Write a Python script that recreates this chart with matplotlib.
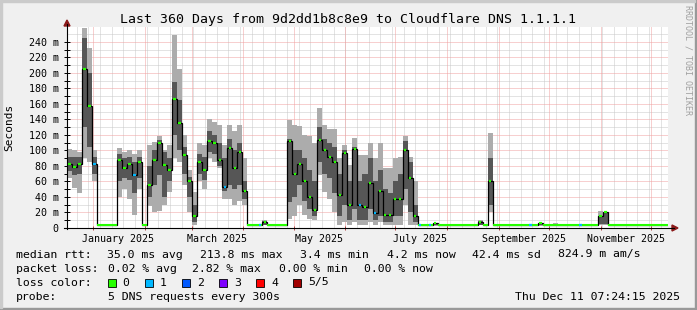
import matplotlib
matplotlib.use("Agg")
import matplotlib.pyplot as plt
from matplotlib.lines import Line2D
from matplotlib.patches import Polygon, Rectangle
from datetime import datetime, timedelta
import numpy as np

# ---------------- data ----------------
START = datetime(2024, 12, 16, 7, 24, 15)
END = datetime(2025, 12, 11, 7, 24, 15)
SPAN_DAYS = 360
SLOT_DAYS = 3

# median rtt per 3-day slot (ms)
median = [
    83, 78, 82, 205, 157, 83, 4.5, 4.5, 4.5, 4.5,
    88, 77, 82, 68, 85, 4.5, 55, 88, 110, 81,
    75, 166, 135, 94, 60, 15, 85, 75, 112, 110,
    88, 53, 103, 77, 98, 48, 4.5, 4.5, 4.5, 8,
    4.5, 4.5, 4.5, 4.5, 112, 70, 83, 60, 40, 23,
    113, 100, 92, 85, 43, 97, 30, 102, 30, 27,
    58, 19, 48, 17, 17, 37, 38, 100, 64, 15,
    3.5, 3.5, 3.5, 6, 3.5, 3.5, 3.5, 3.5, 3.5, 3.5,
    3.5, 3.5, 8, 3.5, 60, 3.5, 3.5, 3.5, 3.5, 3.5,
    3.5, 3.5, 3.5, 3.5, 6, 3.5, 3.5, 3.5, 3.5, 3.5,
    3.5, 3.5, 3.5, 3.5, 3.5, 3.5, 15, 20, 3.5, 3.5,
    3.5, 3.5, 3.5, 4.2, 4.2, 4.2, 4.2, 4.2, 4.2, 4.2,
]
# outer smoke (min/max of pings)
smoke_lo = [
    64, 52, 45, 90, 85, 60, 4, 4, 4, 4,
    40, 50, 38, 17, 50, 4, 28, 20, 22, 30,
    47, 90, 85, 55, 21, 4, 60, 50, 90, 85,
    77, 38, 38, 30, 35, 30, 4, 4, 4, 4,
    4, 4, 4, 4, 12, 15, 30, 17, 12, 10,
    68, 47, 38, 21, 4, 8, 4, 8, 4, 4,
    8, 4, 8, 4, 4, 4, 4, 30, 4, 4,
    3.2, 3.2, 3.2, 3.2, 3.2, 3.2, 3.2, 3.2, 3.2, 3.2,
    3.2, 3.2, 3.4, 3.2, 20, 3.2, 3.2, 3.2, 3.2, 3.2,
    3.2, 3.2, 3.2, 3.2, 3.2, 3.2, 3.2, 3.2, 3.2, 3.2,
    3.2, 3.2, 3.2, 3.2, 3.2, 3.2, 3.4, 4, 3.2, 3.2,
    3.2, 3.2, 3.2, 3.9, 3.9, 3.9, 3.9, 3.9, 3.9, 3.9,
]
smoke_hi = [
    102, 100, 98, 258, 232, 100, 5.5, 5.5, 5.5, 5.5,
    103, 98, 100, 95, 100, 5.5, 107, 111, 118, 100,
    107, 249, 205, 120, 75, 47, 109, 107, 141, 137,
    133, 107, 133, 125, 133, 90, 5.5, 5.5, 5.5, 10,
    5.5, 5.5, 5.5, 5.5, 139, 133, 131, 120, 118, 110,
    154, 133, 128, 128, 90, 107, 81, 116, 94, 94,
    109, 90, 109, 77, 77, 90, 92, 118, 92, 60,
    4.5, 4.5, 4.5, 6.5, 4.5, 4.5, 4.5, 4.5, 4.5, 4.5,
    4.5, 4.5, 10, 4.5, 122, 4.5, 4.5, 4.5, 4.5, 4.5,
    4.5, 4.5, 4.5, 4.5, 7, 4.5, 4.5, 6, 4.5, 4.5,
    4.5, 4.5, 4.5, 4.5, 4.5, 4.5, 22, 20, 4.5, 4.5,
    4.5, 4.5, 4.5, 5.2, 5.2, 5.2, 5.2, 5.2, 5.2, 5.2,
]
# inner smoke (2nd / 4th ping)
core_lo = [
    73, 68, 70, 130, 105, 70, 4.2, 4.2, 4.2, 4.2,
    60, 65, 62, 45, 65, 4.2, 40, 55, 68, 40,
    60, 120, 100, 70, 40, 8, 70, 62, 98, 95,
    80, 48, 55, 50, 55, 38, 4.2, 4.2, 4.2, 4.5,
    4.2, 4.2, 4.2, 4.2, 34, 40, 55, 35, 25, 15,
    85, 70, 65, 45, 15, 30, 10, 25, 10, 10,
    25, 10, 15, 8, 8, 15, 15, 50, 20, 8,
    3.4, 3.4, 3.4, 3.4, 3.4, 3.4, 3.4, 3.4, 3.4, 3.4,
    3.4, 3.4, 4, 3.4, 30, 3.4, 3.4, 3.4, 3.4, 3.4,
    3.4, 3.4, 3.4, 3.4, 3.4, 3.4, 3.4, 3.4, 3.4, 3.4,
    3.4, 3.4, 3.4, 3.4, 3.4, 3.4, 5, 5, 3.4, 3.4,
    3.4, 3.4, 3.4, 4.0, 4.0, 4.0, 4.0, 4.0, 4.0, 4.0,
]
core_hi = [
    92, 92, 92, 245, 200, 92, 5, 5, 5, 5,
    95, 90, 92, 85, 92, 5, 80, 100, 113, 98,
    90, 188, 165, 105, 66, 30, 95, 92, 125, 120,
    110, 90, 115, 100, 110, 60, 5, 5, 5, 9,
    5, 5, 5, 5, 115, 100, 100, 90, 75, 60,
    130, 115, 110, 105, 70, 100, 60, 105, 60, 70,
    90, 60, 75, 50, 45, 60, 70, 112, 85, 30,
    4, 4, 4, 6, 4, 4, 4, 4, 4, 4,
    4, 4, 9, 4, 90, 4, 4, 4, 4, 4,
    4, 4, 4, 4, 6.5, 4, 4, 4, 4, 4,
    4, 4, 4, 4, 4, 4, 16, 19, 4, 4,
    4, 4, 4, 4.6, 4.6, 4.6, 4.6, 4.6, 4.6, 4.6,
]
# lost pings (out of 5) per slot
loss = [
    0, 0, 0, 0, 0, 1, 0, 0, 0, 0,
    0, 0, 0, 1, 0, 0, 0, 0, 0, 0,
    0, 0, 0, 0, 0, 0, 0, 0, 0, 0,
    0, 1, 0, 0, 0, 0, 0, 0, 1, 0,
    0, 0, 0, 0, 0, 0, 0, 0, 0, 0,
    0, 0, 0, 0, 0, 0, 0, 0, 1, 0,
    0, 1, 0, 0, 0, 0, 0, 0, 0, 0,
    1, 0, 1, 0, 0, 0, 0, 0, 0, 0,
    0, 0, 0, 0, 0, 0, 0, 0, 0, 0,
    0, 0, 1, 0, 0, 0, 0, 0, 0, 0,
    0, 0, 1, 0, 0, 0, 0, 0, 0, 0,
    0, 0, 0, 0, 0, 0, 0, 0, 0, 0,
]

y_ticks = [0, 20, 40, 60, 80, 100, 120, 140, 160, 180, 200, 220, 240]
y_tick_labels = ["0", "20 m", "40 m", "60 m", "80 m", "100 m", "120 m",
                 "140 m", "160 m", "180 m", "200 m", "220 m", "240 m"]
month_label_dates = [datetime(2025, 1, 16), datetime(2025, 3, 16), datetime(2025, 5, 16),
                     datetime(2025, 7, 16), datetime(2025, 9, 16), datetime(2025, 11, 16)]
month_labels = ["January 2025", "March 2025", "May 2025", "July 2025",
                "September 2025", "November 2025"]

title = "Last 360 Days from 9d2dd1b8c8e9 to Cloudflare DNS 1.1.1.1"
rtt_stats = ["35.0 ms avg", "213.8 ms max", "3.4 ms min", "4.2 ms now", "42.4 ms sd", "824.9 m am/s"]
loss_stats = ["0.02 % avg", "2.82 % max", "0.00 % min", "0.00 % now"]
loss_colors = ["#26ff00", "#00b8ff", "#0059ff", "#7e00ff", "#ff0000", "#a10000"]
loss_labels = ["0", "1", "2", "3", "4", "5/5"]
probe_text = "5 DNS requests every 300s"
stamp_text = "Thu Dec 11 07:24:15 2025"

# ---------------- layout ----------------
W, H = 697, 310
FONT = "DejaVu Sans Mono"
fig = plt.figure(figsize=(W / 100, H / 100), dpi=100)
fig.patch.set_facecolor("#f0f0f0")

def fx(x):
    return x / W

def fy(y):
    return 1 - y / H

X0, X1, Y0, Y1 = 67, 668, 228, 27
ax = fig.add_axes([fx(X0), fy(Y0), (X1 - X0) / W, (Y0 - Y1) / H])
ax.set_facecolor("white")
ax.set_xlim(0, SPAN_DAYS)
ax.set_ylim(0, 259)
for s in ax.spines.values():
    s.set_visible(False)

def days(d):
    return (d - START).total_seconds() / 86400.0

# grid
dot = (0, (1, 1))
for v in range(10, 260, 10):
    if v % 20:
        ax.axhline(v, color="#c8c8c8", lw=0.72, ls=dot, zorder=0)
for v in y_ticks[1:]:
    ax.axhline(v, color="#f0a0a0", lw=0.72, ls=dot, zorder=1)
sun = datetime(2024, 12, 22)
while sun < END:
    ax.axvline(days(sun), color="#c8c8c8", lw=0.72, ls=dot, zorder=0)
    sun += timedelta(days=7)
month_starts = [datetime(2025, m, 1) for m in range(1, 13)]
for d in month_starts:
    ax.axvline(days(d), color="#f0a0a0", lw=0.72, ls=dot, zorder=1)

# ticks
ax.set_yticks(y_ticks)
ax.set_yticklabels(y_tick_labels, fontfamily=FONT, fontsize=7.2)
ax.set_yticks(list(range(10, 250, 20)), minor=True)
ax.tick_params(axis="y", which="both", direction="inout", length=4, width=0.7, pad=4, colors="black")
ax.set_xticks([days(d) for d in month_starts])
ax.set_xticklabels([])
ax.set_xticks([days(d) for d in month_label_dates], minor=True)
ax.set_xticklabels(month_labels, minor=True, fontfamily=FONT, fontsize=7.2)
ax.tick_params(axis="x", which="major", direction="inout", length=3, width=0.7, color="#b04040")
ax.tick_params(axis="x", which="minor", length=0, pad=4)

# smoke + median
n = len(median)
x = np.arange(n) * SLOT_DAYS + SLOT_DAYS / 2
med = np.array(median, float)
lo, hi = np.array(smoke_lo, float), np.array(smoke_hi, float)
clo, chi = np.array(core_lo, float), np.array(core_hi, float)
ax.bar(x, hi - lo, bottom=lo, width=SLOT_DAYS, color="#acacac", lw=0, zorder=2)
ax.bar(x, chi - clo, bottom=clo, width=SLOT_DAYS, color="#565656", lw=0, zorder=3)
edges = np.arange(n + 1) * SLOT_DAYS
ax.stairs(med, edges, baseline=None, color="black", lw=0.9, zorder=4)
flat = (hi - lo) < 3
ax.hlines(med[flat], x[flat] - SLOT_DAYS / 2, x[flat] + SLOT_DAYS / 2,
          colors=loss_colors[0], lw=1.5, zorder=5)
mark = (~flat) | (np.array(loss) > 0)
ax.hlines(med[mark], x[mark] - 0.75, x[mark] + 0.75,
          colors=[loss_colors[l] for l in np.array(loss)[mark]], lw=1.6, zorder=6)

# axis lines with arrows
arrow_c = "#8b1a1a"
fig.add_artist(Line2D([fx(X0), fx(X0)], [fy(Y0 + 1), fy(24)], color="black", lw=0.8))
fig.add_artist(Line2D([fx(X0 - 3), fx(674)], [fy(Y0), fy(Y0)], color="black", lw=0.8))
fig.add_artist(Polygon([[fx(X0 - 3), fy(26)], [fx(X0 + 3), fy(26)], [fx(X0), fy(20)]],
                       closed=True, color=arrow_c, transform=fig.transFigure))
fig.add_artist(Polygon([[fx(672), fy(Y0 - 3)], [fx(672), fy(Y0 + 3)], [fx(678), fy(Y0)]],
                       closed=True, color=arrow_c, transform=fig.transFigure))

# texts
fig.text(fx(348.5), fy(19), title, ha="center", va="center", fontfamily=FONT, fontsize=9.5)
fig.text(fx(9), fy(127), "Seconds", rotation=90, ha="center", va="center",
         fontfamily=FONT, fontsize=8)
fig.text(fx(688), fy(60), "RRDTOOL / TOBI OETIKER", rotation=270, ha="center", va="center",
         fontfamily=FONT, fontsize=6, color="#a0a0a0")

LF = 8.25
r1, r2, r3, r4 = 254.5, 268.5, 282.5, 296.5
fig.text(fx(15.6), fy(r1), "median rtt:", va="center", fontfamily=FONT, fontsize=LF)
for xp, s in zip([106.7, 200, 300, 387, 472, 558], rtt_stats):
    fig.text(fx(xp), fy(r1), s, va="center", fontfamily=FONT, fontsize=LF)
fig.text(fx(15.6), fy(r2), "packet loss:", va="center", fontfamily=FONT, fontsize=LF)
for xp, s in zip([107.6, 192, 279, 364.4], loss_stats):
    fig.text(fx(xp), fy(r2), s, va="center", fontfamily=FONT, fontsize=LF)
fig.text(fx(15.6), fy(r3), "loss color:", va="center", fontfamily=FONT, fontsize=LF)
for bx, tx, c, s in zip([108, 145, 182, 219, 256.4, 293],
                        [122.7, 160, 197, 234, 271, 308], loss_colors, loss_labels):
    fig.add_artist(Rectangle((fx(bx), fy(r3 + 4)), 8 / W, 8 / H, facecolor=c,
                             edgecolor="black", lw=0.6, transform=fig.transFigure))
    fig.text(fx(tx), fy(r3), s, va="center", fontfamily=FONT, fontsize=LF)
fig.text(fx(15.6), fy(r4), "probe:", va="center", fontfamily=FONT, fontsize=LF)
fig.text(fx(107.6), fy(r4), probe_text, va="center", fontfamily=FONT, fontsize=LF)
fig.text(fx(680), fy(r4), stamp_text, ha="right", va="center", fontfamily=FONT, fontsize=LF)

# 3D border
fig.add_artist(Rectangle((0, 0), 1, 2 / H, color="#999999", transform=fig.transFigure))
fig.add_artist(Rectangle((1 - 2 / W, 0), 2 / W, 1, color="#999999", transform=fig.transFigure))
fig.add_artist(Rectangle((0, 1 - 2 / H), 1 - 2 / W, 2 / H, color="#cbcbcb", transform=fig.transFigure))
fig.add_artist(Rectangle((0, 2 / H), 2 / W, 1 - 4 / H, color="#cbcbcb", transform=fig.transFigure))

fig.savefig("out.png", dpi=100, facecolor=fig.get_facecolor())
